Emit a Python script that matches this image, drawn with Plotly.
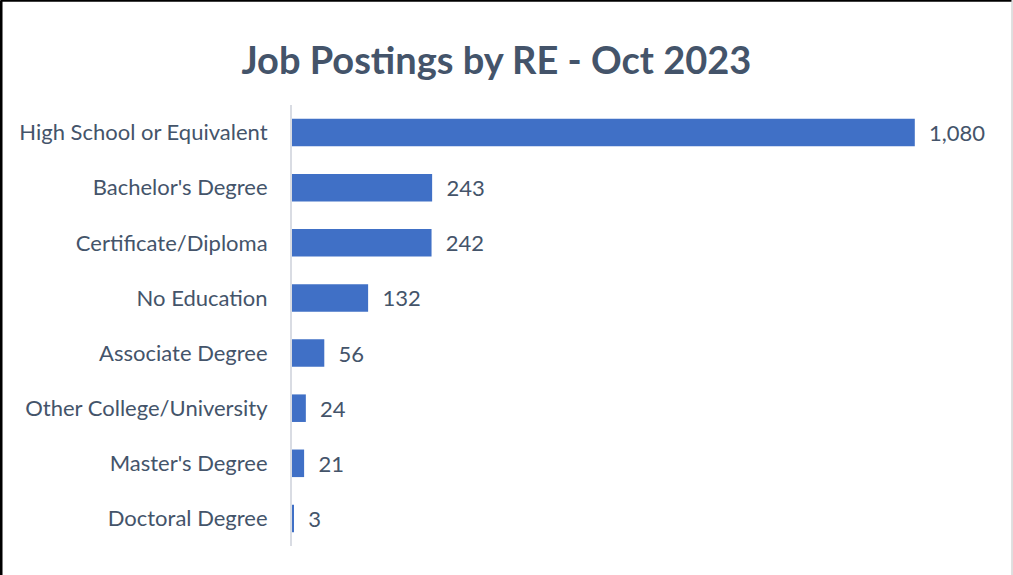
import plotly.graph_objects as go

categories = [
    "High School or Equivalent",
    "Bachelor's Degree",
    "Certificate/Diploma",
    "No Education",
    "Associate Degree",
    "Other College/University",
    "Master's Degree",
    "Doctoral Degree",
]
postings = [1080, 243, 242, 132, 56, 24, 21, 3]

TEXT_COLOR = "#44546A"
BAR_COLOR = "#4070C6"
FONT = "Lato, Carlito, Calibri, sans-serif"

fig = go.Figure(
    go.Bar(
        y=categories,
        x=postings,
        orientation="h",
        marker=dict(color=BAR_COLOR, line_width=0),
        text=["\u00a0\u00a0" + f"{v:,}" for v in postings],
        textposition="outside",
        textfont=dict(family=FONT, size=22, color=TEXT_COLOR),
        cliponaxis=False,
    )
)

fig.update_layout(
    width=1013,
    height=575,
    paper_bgcolor="white",
    plot_bgcolor="white",
    showlegend=False,
    bargap=0.5,
    margin=dict(l=292, r=29, t=105, b=29),
    title=dict(
        text="<b>Job Postings by RE - Oct 2023</b>",
        x=0.49,
        xanchor="center",
        y=0.895,
        yanchor="middle",
        font=dict(family=FONT, size=38, color=TEXT_COLOR),
    ),
    font=dict(family=FONT, color=TEXT_COLOR),
)

fig.update_xaxes(range=[0, 1200], visible=False, showgrid=False, zeroline=False)
fig.update_yaxes(
    categoryorder="array",
    categoryarray=categories[::-1],
    showline=True,
    linecolor="#D9DCE3",
    linewidth=2,
    ticks="",
    ticklabelstandoff=18,
    tickfont=dict(family=FONT, size=22, color=TEXT_COLOR),
    showgrid=False,
)

# chart frame: black on top/left, light grey on the right
fig.add_shape(type="line", xref="paper", yref="paper",
              x0=-0.4205, x1=-0.4205, y0=-0.1, y1=1.2375,
              line=dict(color="black", width=3))
fig.add_shape(type="line", xref="paper", yref="paper",
              x0=-0.4205, x1=1.04, y0=1.2375, y1=1.2375,
              line=dict(color="black", width=3))
fig.add_shape(type="line", xref="paper", yref="paper",
              x0=1.0405, x1=1.0405, y0=-0.1, y1=1.2375,
              line=dict(color="#BFBFBF", width=1))

fig.write_html(
    "out.html",
    config={"displayModeBar": False},
    post_script="document.body.style.margin='0';",
)
